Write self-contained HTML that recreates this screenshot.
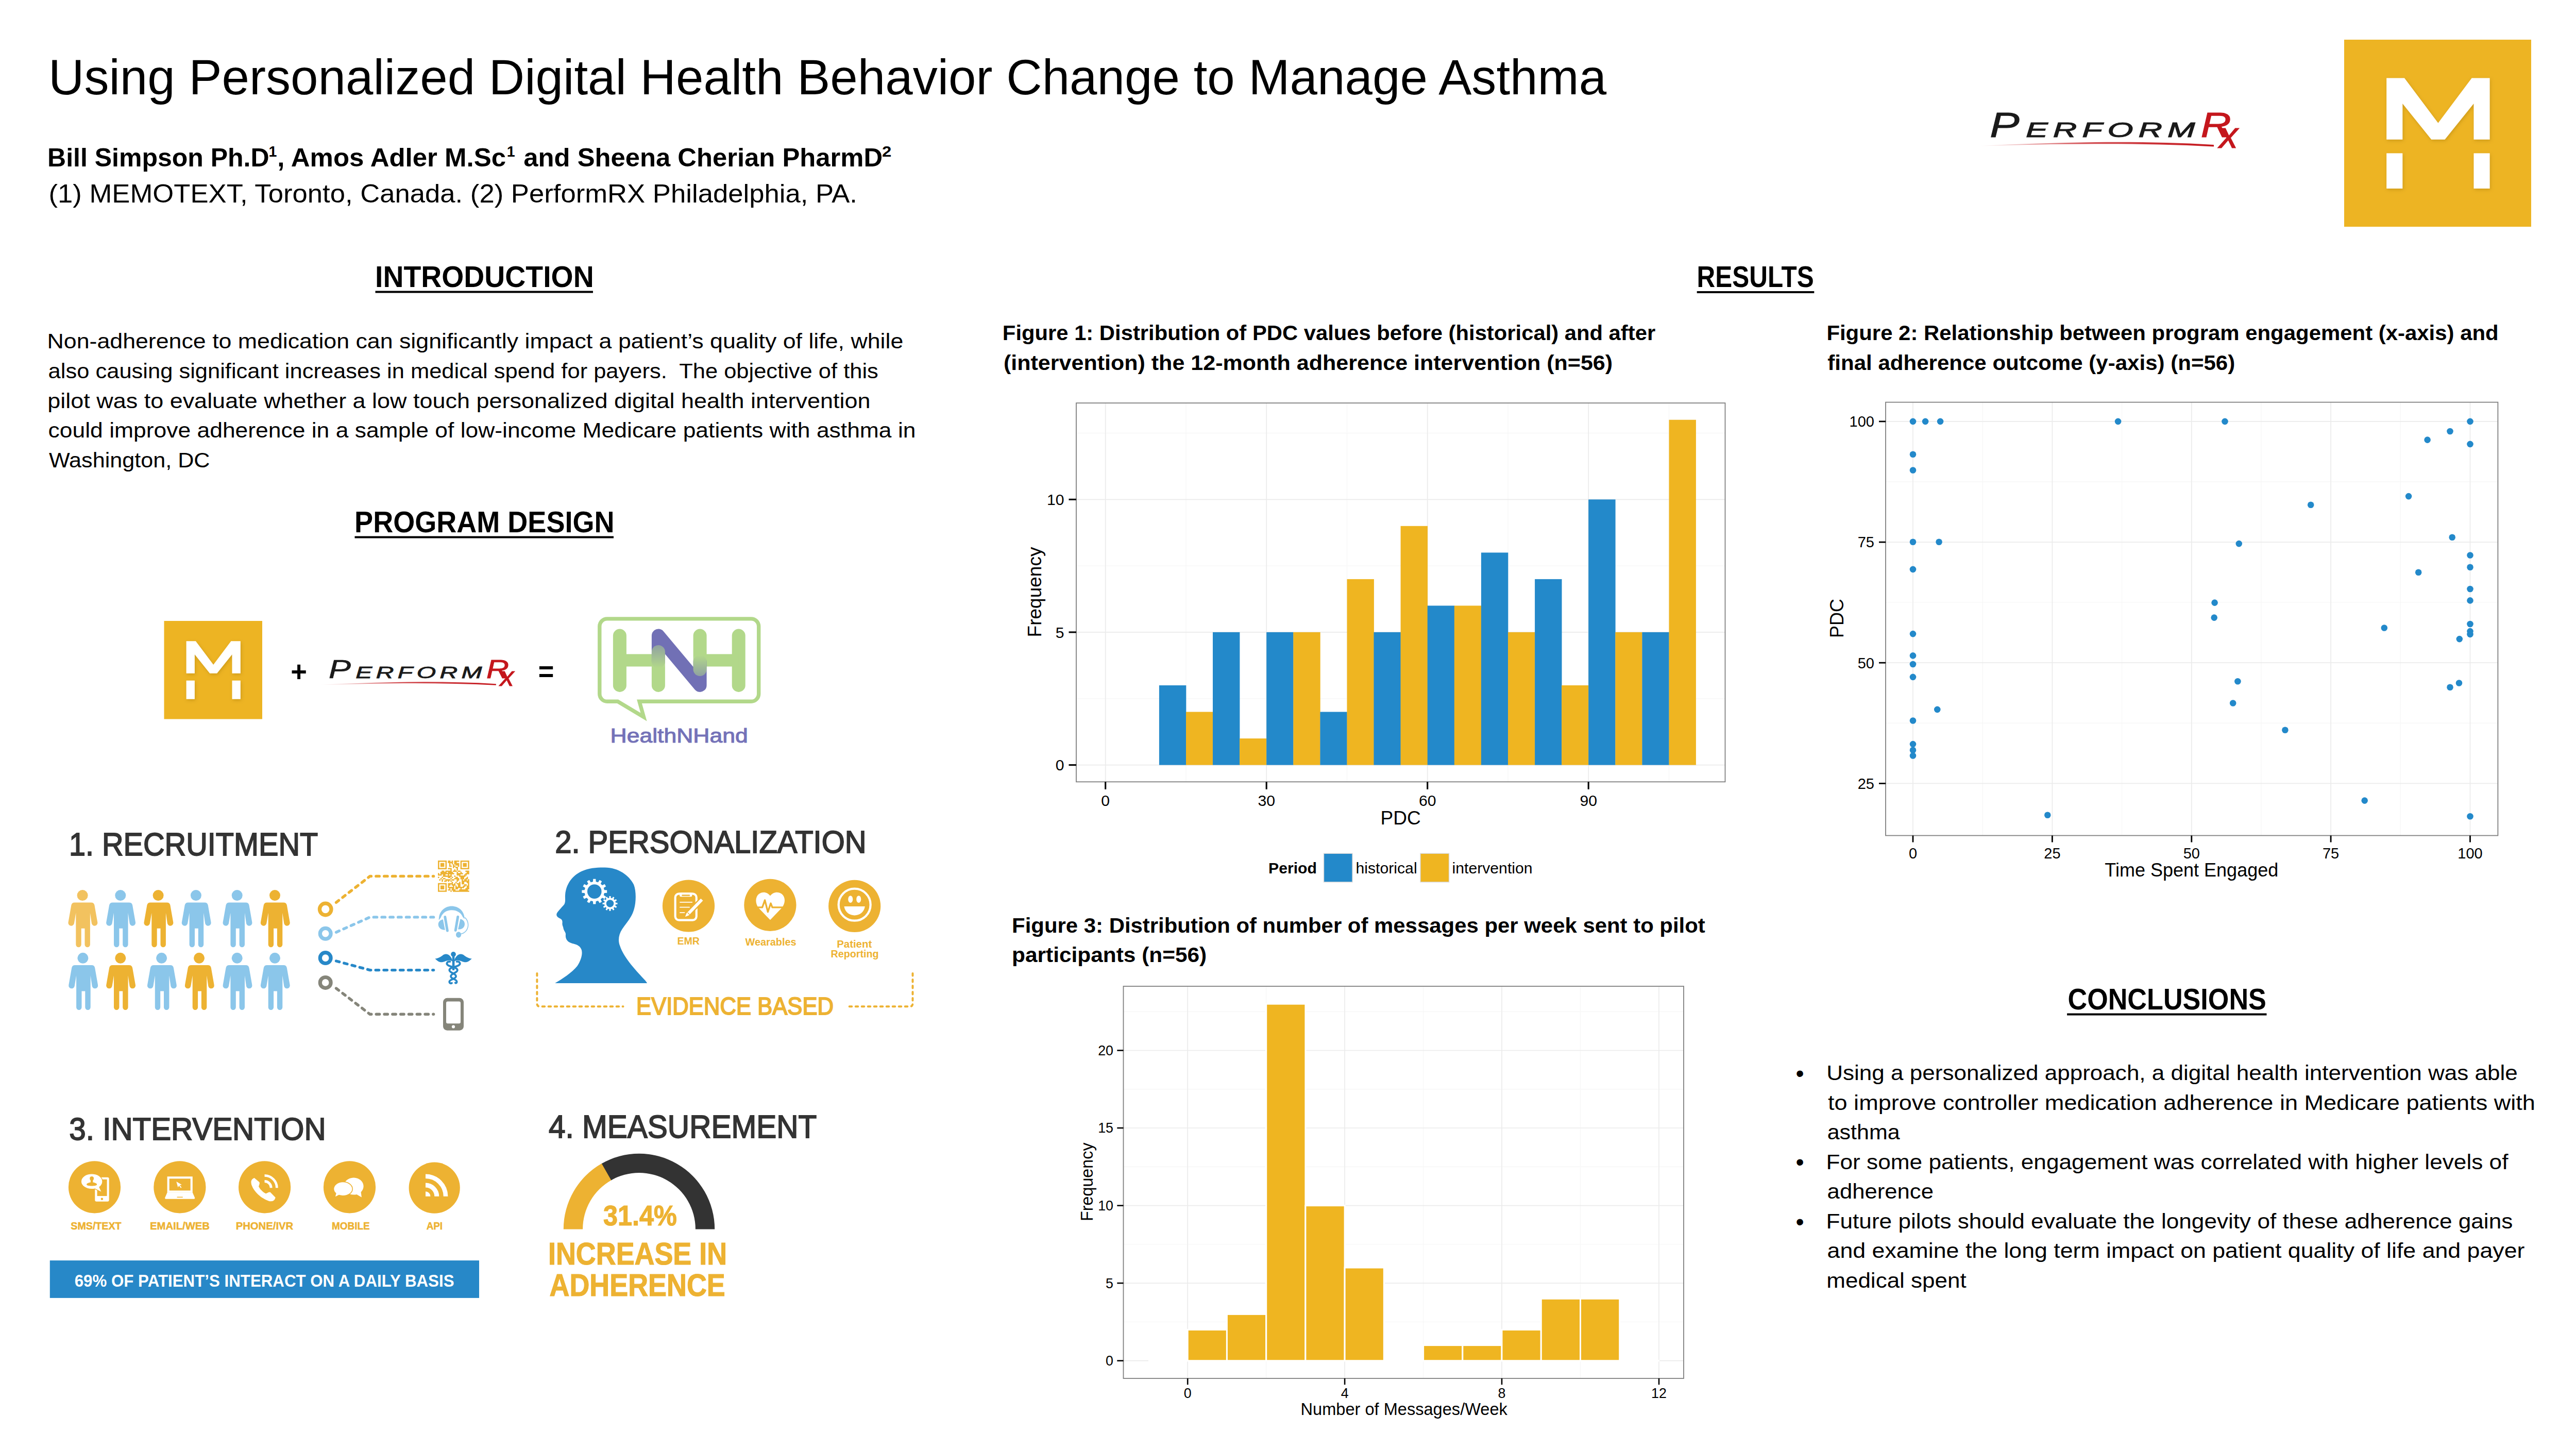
<!DOCTYPE html>
<html lang="en"><head><meta charset="utf-8"><title>Using Personalized Digital Health Behavior Change to Manage Asthma</title>
<style>
html,body{margin:0;padding:0;background:#fff;}
body{width:5006px;height:2812px;overflow:hidden;font-family:'Liberation Sans', sans-serif;}
svg{display:block;font-family:'Liberation Sans', sans-serif;}
text{white-space:pre;}
</style></head><body>
<svg width="5006" height="2812" viewBox="0 0 5006 2812">
<defs>
<filter id="msh" x="-10%" y="-10%" width="130%" height="130%"><feDropShadow dx="1.5" dy="2.5" stdDeviation="3" flood-color="#7a5a00" flood-opacity="0.28"/></filter>
<linearGradient id="swg" x1="0" x2="1" y1="0" y2="0"><stop offset="0" stop-color="#C4161C" stop-opacity="0"/><stop offset="0.45" stop-color="#C4161C" stop-opacity="0.75"/><stop offset="1" stop-color="#C4161C"/></linearGradient>
<linearGradient id="gp1" gradientUnits="userSpaceOnUse" x1="0" x2="0" y1="1254" y2="1296"><stop offset="0" stop-color="#B2D88A" stop-opacity="0.5"/><stop offset="1" stop-color="#B2D88A" stop-opacity="1"/></linearGradient>
<linearGradient id="gp2" gradientUnits="userSpaceOnUse" x1="0" x2="0" y1="1272" y2="1310"><stop offset="0" stop-color="#B2D88A" stop-opacity="1"/><stop offset="1" stop-color="#B2D88A" stop-opacity="0.5"/></linearGradient>
</defs>
<rect width="5006" height="2812" fill="#fff"/>
<text x="94.00" y="182.5" font-size="96" fill="#000" textLength="3024.09" lengthAdjust="spacingAndGlyphs">Using Personalized Digital Health Behavior Change to Manage Asthma</text>
<text x="92.08" y="322.6" font-size="50" font-weight="bold" fill="#000" textLength="430.46" lengthAdjust="spacingAndGlyphs">Bill Simpson Ph.D</text>
<text x="521.41" y="303.6" font-size="30" font-weight="bold" fill="#000" textLength="15.90" lengthAdjust="spacingAndGlyphs">1</text>
<text x="538.34" y="322.6" font-size="50" font-weight="bold" fill="#000" textLength="443.72" lengthAdjust="spacingAndGlyphs">, Amos Adler M.Sc</text>
<text x="983.71" y="303.6" font-size="30" font-weight="bold" fill="#000" textLength="15.90" lengthAdjust="spacingAndGlyphs">1</text>
<text x="1016.31" y="322.6" font-size="50" font-weight="bold" fill="#000" textLength="696.85" lengthAdjust="spacingAndGlyphs">and Sheena Cherian PharmD</text>
<text x="1711.97" y="303.6" font-size="30" font-weight="bold" fill="#000" textLength="18.35" lengthAdjust="spacingAndGlyphs">2</text>
<text x="94.53" y="393.2" font-size="50" fill="#000" textLength="1569.42" lengthAdjust="spacingAndGlyphs">(1) MEMOTEXT, Toronto, Canada. (2) PerformRX Philadelphia, PA.</text>
<text x="728.04" y="556.5" font-size="57" font-weight="bold" fill="#000" textLength="424.61" lengthAdjust="spacingAndGlyphs">INTRODUCTION</text>
<rect x="728.5" y="564.5" width="422.5" height="4" fill="#000"/>
<text x="3293.61" y="557.0" font-size="57" font-weight="bold" fill="#000" textLength="226.99" lengthAdjust="spacingAndGlyphs">RESULTS</text>
<rect x="3293.7" y="565.0" width="227.6" height="4" fill="#000"/>
<text x="688.12" y="1032.5" font-size="57" font-weight="bold" fill="#000" textLength="504.44" lengthAdjust="spacingAndGlyphs">PROGRAM DESIGN</text>
<rect x="688.5" y="1040.5" width="502.5" height="4" fill="#000"/>
<text x="4013.47" y="1958.5" font-size="57" font-weight="bold" fill="#000" textLength="385.41" lengthAdjust="spacingAndGlyphs">CONCLUSIONS</text>
<rect x="4012.1" y="1966.5" width="387.4" height="4" fill="#000"/>
<text x="91.51" y="676.0" font-size="41" fill="#000" textLength="1661.80" lengthAdjust="spacingAndGlyphs">Non-adherence to medication can significantly impact a patient’s quality of life, while</text>
<text x="93.64" y="734.0" font-size="41" fill="#000" textLength="1611.22" lengthAdjust="spacingAndGlyphs">also causing significant increases in medical spend for payers.  The objective of this</text>
<text x="92.19" y="791.5" font-size="41" fill="#000" textLength="1597.34" lengthAdjust="spacingAndGlyphs">pilot was to evaluate whether a low touch personalized digital health intervention</text>
<text x="93.61" y="849.0" font-size="41" fill="#000" textLength="1683.88" lengthAdjust="spacingAndGlyphs">could improve adherence in a sample of low-income Medicare patients with asthma in</text>
<text x="95.00" y="906.5" font-size="41" fill="#000" textLength="312.50" lengthAdjust="spacingAndGlyphs">Washington, DC</text>
<text x="1945.89" y="660.0" font-size="41" font-weight="bold" fill="#000" textLength="1267.30" lengthAdjust="spacingAndGlyphs">Figure 1: Distribution of PDC values before (historical) and after</text>
<text x="1947.98" y="718.0" font-size="41" font-weight="bold" fill="#000" textLength="1182.17" lengthAdjust="spacingAndGlyphs">(intervention) the 12-month adherence intervention (n=56)</text>
<text x="3545.38" y="659.5" font-size="41" font-weight="bold" fill="#000" textLength="1304.30" lengthAdjust="spacingAndGlyphs">Figure 2: Relationship between program engagement (x-axis) and</text>
<text x="3547.34" y="717.6" font-size="41" font-weight="bold" fill="#000" textLength="790.88" lengthAdjust="spacingAndGlyphs">final adherence outcome (y-axis) (n=56)</text>
<text x="1964.08" y="1810.4" font-size="41" font-weight="bold" fill="#000" textLength="1345.72" lengthAdjust="spacingAndGlyphs">Figure 3: Distribution of number of messages per week sent to pilot</text>
<text x="1964.05" y="1867.4" font-size="41" font-weight="bold" fill="#000" textLength="378.18" lengthAdjust="spacingAndGlyphs">participants (n=56)</text>
<text x="3545.25" y="2095.9" font-size="41" fill="#000" textLength="1341.54" lengthAdjust="spacingAndGlyphs">Using a personalized approach, a digital health intervention was able</text>
<text x="3548.00" y="2153.6" font-size="41" fill="#000" textLength="1372.93" lengthAdjust="spacingAndGlyphs">to improve controller medication adherence in Medicare patients with</text>
<text x="3546.66" y="2211.4" font-size="41" fill="#000" textLength="141.07" lengthAdjust="spacingAndGlyphs">asthma</text>
<text x="3544.55" y="2268.5" font-size="41" fill="#000" textLength="1323.90" lengthAdjust="spacingAndGlyphs">For some patients, engagement was correlated with higher levels of</text>
<text x="3546.64" y="2326.3" font-size="41" fill="#000" textLength="206.33" lengthAdjust="spacingAndGlyphs">adherence</text>
<text x="3544.55" y="2384.0" font-size="41" fill="#000" textLength="1332.73" lengthAdjust="spacingAndGlyphs">Future pilots should evaluate the longevity of these adherence gains</text>
<text x="3546.60" y="2441.2" font-size="41" fill="#000" textLength="1353.81" lengthAdjust="spacingAndGlyphs">and examine the long term impact on patient quality of life and payer</text>
<text x="3545.25" y="2498.9" font-size="41" fill="#000" textLength="271.50" lengthAdjust="spacingAndGlyphs">medical spent</text>
<text x="3485.56" y="2098.7" font-size="46" fill="#000" textLength="16.18" lengthAdjust="spacingAndGlyphs">•</text>
<text x="3485.56" y="2271.3" font-size="46" fill="#000" textLength="16.18" lengthAdjust="spacingAndGlyphs">•</text>
<text x="3485.56" y="2386.8" font-size="46" fill="#000" textLength="16.18" lengthAdjust="spacingAndGlyphs">•</text>
<g><rect x="4550.0" y="77.0" width="363.0" height="363.0" fill="#EDB423"/>
<g fill="#fff" filter="url(#msh)"><polygon points="4632.2,151.6 4667.0,151.6 4732.4,238.8 4797.7,151.6 4832.6,151.6 4832.6,270.7 4801.5,270.7 4801.5,201.0 4745.4,270.7 4719.3,270.7 4663.3,201.0 4663.3,270.7 4632.2,270.7"/>
<rect x="4632.2" y="297.4" width="31.1" height="68.5"/>
<rect x="4801.5" y="297.4" width="31.1" height="68.5"/></g></g>
<g><rect x="318.5" y="1205.0" width="190.5" height="190.5" fill="#EDB423"/>
<g fill="#fff" filter="url(#msh)"><polygon points="361.6,1244.2 379.9,1244.2 414.2,1289.9 448.5,1244.2 466.8,1244.2 466.8,1306.7 450.5,1306.7 450.5,1270.1 421.1,1306.7 407.3,1306.7 377.9,1270.1 377.9,1306.7 361.6,1306.7"/>
<rect x="361.6" y="1320.7" width="16.3" height="36.0"/>
<rect x="450.5" y="1320.7" width="16.3" height="36.0"/></g></g>
<g transform="">
<text x="3862.15" y="266.0" font-size="68" font-style="italic" fill="#1a1a1a" textLength="57.42" lengthAdjust="spacingAndGlyphs" stroke="#1a1a1a" stroke-width="1">P</text>
<text transform="translate(3931.99,266.0) scale(1.55,1)" font-size="41.5" font-style="italic" fill="#1a1a1a" textLength="212.01" lengthAdjust="spacing" stroke="#1a1a1a" stroke-width="1.1">ERFORM</text>
<text x="4271.73" y="266.0" font-size="68" font-style="italic" fill="#C4161C" textLength="58.82" lengthAdjust="spacingAndGlyphs" stroke="#C4161C" stroke-width="1.2">R</text>
<text x="4307.41" y="286.5" font-size="72" font-style="italic" fill="#C4161C" textLength="36.32" lengthAdjust="spacingAndGlyphs" stroke="#C4161C" stroke-width="1.1">x</text>
<path d="M3842,283 C3990,276 4150,272 4297,281 L4297,284.5 C4150,276.5 3990,279 3842,283.6 Z" fill="url(#swg)"/>
</g>
<g transform="translate(-2247.03,1117.30) scale(0.747)">
<text x="3862.15" y="266.0" font-size="68" font-style="italic" fill="#1a1a1a" textLength="57.42" lengthAdjust="spacingAndGlyphs" stroke="#1a1a1a" stroke-width="1">P</text>
<text transform="translate(3931.99,266.0) scale(1.55,1)" font-size="41.5" font-style="italic" fill="#1a1a1a" textLength="212.01" lengthAdjust="spacing" stroke="#1a1a1a" stroke-width="1.1">ERFORM</text>
<text x="4271.73" y="266.0" font-size="68" font-style="italic" fill="#C4161C" textLength="58.82" lengthAdjust="spacingAndGlyphs" stroke="#C4161C" stroke-width="1.2">R</text>
<text x="4307.41" y="286.5" font-size="72" font-style="italic" fill="#C4161C" textLength="36.32" lengthAdjust="spacingAndGlyphs" stroke="#C4161C" stroke-width="1.1">x</text>
<path d="M3842,283 C3990,276 4150,272 4297,281 L4297,284.5 C4150,276.5 3990,279 3842,283.6 Z" fill="url(#swg)"/>
</g>
<text x="564.30" y="1322.0" font-size="56" font-weight="bold" fill="#000" textLength="31.71" lengthAdjust="spacingAndGlyphs">+</text>
<text x="1044.86" y="1322.0" font-size="56" font-weight="bold" fill="#000" textLength="30.58" lengthAdjust="spacingAndGlyphs">=</text>
<g>
<path d="M1178.5,1200.9 H1458 a14.7,14.7 0 0 1 14.7,14.7 V1346.6 a14.7,14.7 0 0 1 -14.7,14.7 H1241 L1249.5,1391.5 L1199,1361.3 H1178.5 a14.7,14.7 0 0 1 -14.7,-14.7 V1215.6 a14.7,14.7 0 0 1 14.7,-14.7 Z" fill="#fff" stroke="#B2D88A" stroke-width="7.4" stroke-linejoin="miter"/>
<rect x="1189.9" y="1220.6" width="26" height="122.3" rx="13" fill="#B2D88A"/>
<rect x="1420.7" y="1220.6" width="26" height="122.3" rx="13" fill="#B2D88A"/>
<rect x="1202.9" y="1269.4" width="75" height="24.1" fill="#B2D88A"/>
<rect x="1358.6" y="1269.4" width="75.1" height="24.1" fill="#B2D88A"/>
<path d="M1277.9,1284 V1233.6 L1358.6,1329.9 V1284" fill="none" stroke="#7170B5" stroke-width="26" stroke-linecap="round" stroke-linejoin="round"/>
<rect x="1264.9" y="1252" width="26" height="90.9" rx="13" fill="url(#gp1)"/>
<rect x="1345.6" y="1220.6" width="26" height="91.4" rx="13" fill="url(#gp2)"/>
</g>
<text x="1184.52" y="1440.6" font-size="39" fill="#7472B8" textLength="267.28" lengthAdjust="spacingAndGlyphs" stroke="#7472B8" stroke-width="1.1">HealthNHand</text>
<text x="133.90" y="1659.5" font-size="63" fill="#333333" textLength="483.29" lengthAdjust="spacingAndGlyphs" stroke="#333333" stroke-width="1.9">1. RECRUITMENT</text>
<text x="1077.18" y="1655.3" font-size="61" fill="#333333" textLength="604.44" lengthAdjust="spacingAndGlyphs" stroke="#333333" stroke-width="1.9">2. PERSONALIZATION</text>
<text x="134.28" y="2212.1" font-size="62" fill="#333333" textLength="498.38" lengthAdjust="spacingAndGlyphs" stroke="#333333" stroke-width="1.9">3. INTERVENTION</text>
<text x="1064.89" y="2208.1" font-size="63" fill="#333333" textLength="520.42" lengthAdjust="spacingAndGlyphs" stroke="#333333" stroke-width="1.9">4. MEASUREMENT</text>
<g fill="#F2C25F"><circle cx="160.1" cy="1737.6" r="10.5"/><path transform="translate(160.9,1737.6)" d="M-16,13.8 H16 Q21.5,13.8 22.5,19 L28.3,52 A5.7,5.7 0 0 1 17,54.5 L14,34 V95.5 A5.2,5.2 0 0 1 3.6,95.5 V64.2 H-3.2 V95.5 A5.2,5.2 0 0 1 -13.6,95.5 V34 L-17,54.5 A5.7,5.7 0 0 1 -28.3,52 L-22.5,19 Q-21.5,13.8 -16,13.8 Z"/></g>
<g fill="#8BC6EA"><circle cx="233.8" cy="1737.6" r="10.5"/><path transform="translate(234.6,1737.6)" d="M-16,13.8 H16 Q21.5,13.8 22.5,19 L28.3,52 A5.7,5.7 0 0 1 17,54.5 L14,34 V95.5 A5.2,5.2 0 0 1 3.6,95.5 V64.2 H-3.2 V95.5 A5.2,5.2 0 0 1 -13.6,95.5 V34 L-17,54.5 A5.7,5.7 0 0 1 -28.3,52 L-22.5,19 Q-21.5,13.8 -16,13.8 Z"/></g>
<g fill="#EDB232"><circle cx="307.1" cy="1737.6" r="10.5"/><path transform="translate(307.9,1737.6)" d="M-16,13.8 H16 Q21.5,13.8 22.5,19 L28.3,52 A5.7,5.7 0 0 1 17,54.5 L14,34 V95.5 A5.2,5.2 0 0 1 3.6,95.5 V64.2 H-3.2 V95.5 A5.2,5.2 0 0 1 -13.6,95.5 V34 L-17,54.5 A5.7,5.7 0 0 1 -28.3,52 L-22.5,19 Q-21.5,13.8 -16,13.8 Z"/></g>
<g fill="#8BC6EA"><circle cx="380.4" cy="1737.6" r="10.5"/><path transform="translate(381.2,1737.6)" d="M-16,13.8 H16 Q21.5,13.8 22.5,19 L28.3,52 A5.7,5.7 0 0 1 17,54.5 L14,34 V95.5 A5.2,5.2 0 0 1 3.6,95.5 V64.2 H-3.2 V95.5 A5.2,5.2 0 0 1 -13.6,95.5 V34 L-17,54.5 A5.7,5.7 0 0 1 -28.3,52 L-22.5,19 Q-21.5,13.8 -16,13.8 Z"/></g>
<g fill="#8BC6EA"><circle cx="460.2" cy="1737.6" r="10.5"/><path transform="translate(461.0,1737.6)" d="M-16,13.8 H16 Q21.5,13.8 22.5,19 L28.3,52 A5.7,5.7 0 0 1 17,54.5 L14,34 V95.5 A5.2,5.2 0 0 1 3.6,95.5 V64.2 H-3.2 V95.5 A5.2,5.2 0 0 1 -13.6,95.5 V34 L-17,54.5 A5.7,5.7 0 0 1 -28.3,52 L-22.5,19 Q-21.5,13.8 -16,13.8 Z"/></g>
<g fill="#EDB232"><circle cx="533.5" cy="1737.6" r="10.5"/><path transform="translate(534.3,1737.6)" d="M-16,13.8 H16 Q21.5,13.8 22.5,19 L28.3,52 A5.7,5.7 0 0 1 17,54.5 L14,34 V95.5 A5.2,5.2 0 0 1 3.6,95.5 V64.2 H-3.2 V95.5 A5.2,5.2 0 0 1 -13.6,95.5 V34 L-17,54.5 A5.7,5.7 0 0 1 -28.3,52 L-22.5,19 Q-21.5,13.8 -16,13.8 Z"/></g>
<g fill="#8BC6EA"><circle cx="160.9" cy="1859.3" r="10.5"/><path transform="translate(161.7,1859.3)" d="M-16,13.8 H16 Q21.5,13.8 22.5,19 L28.3,52 A5.7,5.7 0 0 1 17,54.5 L14,34 V95.5 A5.2,5.2 0 0 1 3.6,95.5 V64.2 H-3.2 V95.5 A5.2,5.2 0 0 1 -13.6,95.5 V34 L-17,54.5 A5.7,5.7 0 0 1 -28.3,52 L-22.5,19 Q-21.5,13.8 -16,13.8 Z"/></g>
<g fill="#EDB232"><circle cx="233.8" cy="1859.3" r="10.5"/><path transform="translate(234.6,1859.3)" d="M-16,13.8 H16 Q21.5,13.8 22.5,19 L28.3,52 A5.7,5.7 0 0 1 17,54.5 L14,34 V95.5 A5.2,5.2 0 0 1 3.6,95.5 V64.2 H-3.2 V95.5 A5.2,5.2 0 0 1 -13.6,95.5 V34 L-17,54.5 A5.7,5.7 0 0 1 -28.3,52 L-22.5,19 Q-21.5,13.8 -16,13.8 Z"/></g>
<g fill="#8BC6EA"><circle cx="313.6" cy="1859.3" r="10.5"/><path transform="translate(314.4,1859.3)" d="M-16,13.8 H16 Q21.5,13.8 22.5,19 L28.3,52 A5.7,5.7 0 0 1 17,54.5 L14,34 V95.5 A5.2,5.2 0 0 1 3.6,95.5 V64.2 H-3.2 V95.5 A5.2,5.2 0 0 1 -13.6,95.5 V34 L-17,54.5 A5.7,5.7 0 0 1 -28.3,52 L-22.5,19 Q-21.5,13.8 -16,13.8 Z"/></g>
<g fill="#EDB232"><circle cx="386.5" cy="1859.3" r="10.5"/><path transform="translate(387.3,1859.3)" d="M-16,13.8 H16 Q21.5,13.8 22.5,19 L28.3,52 A5.7,5.7 0 0 1 17,54.5 L14,34 V95.5 A5.2,5.2 0 0 1 3.6,95.5 V64.2 H-3.2 V95.5 A5.2,5.2 0 0 1 -13.6,95.5 V34 L-17,54.5 A5.7,5.7 0 0 1 -28.3,52 L-22.5,19 Q-21.5,13.8 -16,13.8 Z"/></g>
<g fill="#8BC6EA"><circle cx="460.2" cy="1859.3" r="10.5"/><path transform="translate(461.0,1859.3)" d="M-16,13.8 H16 Q21.5,13.8 22.5,19 L28.3,52 A5.7,5.7 0 0 1 17,54.5 L14,34 V95.5 A5.2,5.2 0 0 1 3.6,95.5 V64.2 H-3.2 V95.5 A5.2,5.2 0 0 1 -13.6,95.5 V34 L-17,54.5 A5.7,5.7 0 0 1 -28.3,52 L-22.5,19 Q-21.5,13.8 -16,13.8 Z"/></g>
<g fill="#8BC6EA"><circle cx="533.5" cy="1859.3" r="10.5"/><path transform="translate(534.3,1859.3)" d="M-16,13.8 H16 Q21.5,13.8 22.5,19 L28.3,52 A5.7,5.7 0 0 1 17,54.5 L14,34 V95.5 A5.2,5.2 0 0 1 3.6,95.5 V64.2 H-3.2 V95.5 A5.2,5.2 0 0 1 -13.6,95.5 V34 L-17,54.5 A5.7,5.7 0 0 1 -28.3,52 L-22.5,19 Q-21.5,13.8 -16,13.8 Z"/></g>
<circle cx="631.7" cy="1764.5" r="11.3" fill="none" stroke="#EDB232" stroke-width="7.2"/>
<circle cx="631.7" cy="1811.8" r="10.4" fill="none" stroke="#8BC6EA" stroke-width="7.2"/>
<circle cx="631.7" cy="1859.1" r="10.4" fill="none" stroke="#2788C8" stroke-width="7.2"/>
<circle cx="631.7" cy="1906.9" r="10.4" fill="none" stroke="#85857A" stroke-width="7.2"/>
<path d="M652.5,1751.3 L718.1,1700.4 L841.6,1700.4" fill="none" stroke="#EDB232" stroke-width="5.4" stroke-linecap="round" stroke-linejoin="round" stroke-dasharray="6.4 9.4"/>
<path d="M652.5,1809.2 L718.1,1779.9 L841.6,1779.9" fill="none" stroke="#8BC6EA" stroke-width="5.4" stroke-linecap="round" stroke-linejoin="round" stroke-dasharray="6.4 9.4"/>
<path d="M652.5,1865 L718.1,1882.6 L841.6,1882.6" fill="none" stroke="#2788C8" stroke-width="5.4" stroke-linecap="round" stroke-linejoin="round" stroke-dasharray="6.4 9.4"/>
<path d="M652.5,1918 L718.1,1968.3 L841.6,1968.3" fill="none" stroke="#85857A" stroke-width="5.4" stroke-linecap="round" stroke-linejoin="round" stroke-dasharray="6.4 9.4"/>
<path d="M850.00,1670.00h2.57v2.57h-2.57zM852.42,1670.00h2.57v2.57h-2.57zM854.85,1670.00h2.57v2.57h-2.57zM857.27,1670.00h2.57v2.57h-2.57zM859.70,1670.00h2.57v2.57h-2.57zM862.12,1670.00h2.57v2.57h-2.57zM864.54,1670.00h2.57v2.57h-2.57zM869.39,1670.00h2.57v2.57h-2.57zM871.82,1670.00h2.57v2.57h-2.57zM876.66,1670.00h2.57v2.57h-2.57zM881.51,1670.00h2.57v2.57h-2.57zM883.94,1670.00h2.57v2.57h-2.57zM886.36,1670.00h2.57v2.57h-2.57zM888.78,1670.00h2.57v2.57h-2.57zM893.63,1670.00h2.57v2.57h-2.57zM896.06,1670.00h2.57v2.57h-2.57zM898.48,1670.00h2.57v2.57h-2.57zM900.90,1670.00h2.57v2.57h-2.57zM903.33,1670.00h2.57v2.57h-2.57zM905.75,1670.00h2.57v2.57h-2.57zM908.18,1670.00h2.57v2.57h-2.57zM850.00,1672.42h2.57v2.57h-2.57zM864.54,1672.42h2.57v2.57h-2.57zM869.39,1672.42h2.57v2.57h-2.57zM871.82,1672.42h2.57v2.57h-2.57zM874.24,1672.42h2.57v2.57h-2.57zM876.66,1672.42h2.57v2.57h-2.57zM881.51,1672.42h2.57v2.57h-2.57zM883.94,1672.42h2.57v2.57h-2.57zM893.63,1672.42h2.57v2.57h-2.57zM908.18,1672.42h2.57v2.57h-2.57zM850.00,1674.85h2.57v2.57h-2.57zM854.85,1674.85h2.57v2.57h-2.57zM857.27,1674.85h2.57v2.57h-2.57zM859.70,1674.85h2.57v2.57h-2.57zM864.54,1674.85h2.57v2.57h-2.57zM871.82,1674.85h2.57v2.57h-2.57zM876.66,1674.85h2.57v2.57h-2.57zM881.51,1674.85h2.57v2.57h-2.57zM883.94,1674.85h2.57v2.57h-2.57zM886.36,1674.85h2.57v2.57h-2.57zM888.78,1674.85h2.57v2.57h-2.57zM893.63,1674.85h2.57v2.57h-2.57zM898.48,1674.85h2.57v2.57h-2.57zM900.90,1674.85h2.57v2.57h-2.57zM903.33,1674.85h2.57v2.57h-2.57zM908.18,1674.85h2.57v2.57h-2.57zM850.00,1677.27h2.57v2.57h-2.57zM854.85,1677.27h2.57v2.57h-2.57zM857.27,1677.27h2.57v2.57h-2.57zM859.70,1677.27h2.57v2.57h-2.57zM864.54,1677.27h2.57v2.57h-2.57zM871.82,1677.27h2.57v2.57h-2.57zM879.09,1677.27h2.57v2.57h-2.57zM883.94,1677.27h2.57v2.57h-2.57zM886.36,1677.27h2.57v2.57h-2.57zM888.78,1677.27h2.57v2.57h-2.57zM893.63,1677.27h2.57v2.57h-2.57zM898.48,1677.27h2.57v2.57h-2.57zM900.90,1677.27h2.57v2.57h-2.57zM903.33,1677.27h2.57v2.57h-2.57zM908.18,1677.27h2.57v2.57h-2.57zM850.00,1679.70h2.57v2.57h-2.57zM854.85,1679.70h2.57v2.57h-2.57zM857.27,1679.70h2.57v2.57h-2.57zM859.70,1679.70h2.57v2.57h-2.57zM864.54,1679.70h2.57v2.57h-2.57zM871.82,1679.70h2.57v2.57h-2.57zM874.24,1679.70h2.57v2.57h-2.57zM879.09,1679.70h2.57v2.57h-2.57zM881.51,1679.70h2.57v2.57h-2.57zM888.78,1679.70h2.57v2.57h-2.57zM893.63,1679.70h2.57v2.57h-2.57zM898.48,1679.70h2.57v2.57h-2.57zM900.90,1679.70h2.57v2.57h-2.57zM903.33,1679.70h2.57v2.57h-2.57zM908.18,1679.70h2.57v2.57h-2.57zM850.00,1682.12h2.57v2.57h-2.57zM864.54,1682.12h2.57v2.57h-2.57zM879.09,1682.12h2.57v2.57h-2.57zM883.94,1682.12h2.57v2.57h-2.57zM886.36,1682.12h2.57v2.57h-2.57zM893.63,1682.12h2.57v2.57h-2.57zM908.18,1682.12h2.57v2.57h-2.57zM850.00,1684.54h2.57v2.57h-2.57zM852.42,1684.54h2.57v2.57h-2.57zM854.85,1684.54h2.57v2.57h-2.57zM857.27,1684.54h2.57v2.57h-2.57zM859.70,1684.54h2.57v2.57h-2.57zM862.12,1684.54h2.57v2.57h-2.57zM864.54,1684.54h2.57v2.57h-2.57zM869.39,1684.54h2.57v2.57h-2.57zM871.82,1684.54h2.57v2.57h-2.57zM874.24,1684.54h2.57v2.57h-2.57zM886.36,1684.54h2.57v2.57h-2.57zM893.63,1684.54h2.57v2.57h-2.57zM896.06,1684.54h2.57v2.57h-2.57zM898.48,1684.54h2.57v2.57h-2.57zM900.90,1684.54h2.57v2.57h-2.57zM903.33,1684.54h2.57v2.57h-2.57zM905.75,1684.54h2.57v2.57h-2.57zM908.18,1684.54h2.57v2.57h-2.57zM874.24,1686.97h2.57v2.57h-2.57zM881.51,1686.97h2.57v2.57h-2.57zM886.36,1686.97h2.57v2.57h-2.57zM857.27,1689.39h2.57v2.57h-2.57zM859.70,1689.39h2.57v2.57h-2.57zM864.54,1689.39h2.57v2.57h-2.57zM866.97,1689.39h2.57v2.57h-2.57zM869.39,1689.39h2.57v2.57h-2.57zM871.82,1689.39h2.57v2.57h-2.57zM874.24,1689.39h2.57v2.57h-2.57zM879.09,1689.39h2.57v2.57h-2.57zM881.51,1689.39h2.57v2.57h-2.57zM883.94,1689.39h2.57v2.57h-2.57zM888.78,1689.39h2.57v2.57h-2.57zM891.21,1689.39h2.57v2.57h-2.57zM903.33,1689.39h2.57v2.57h-2.57zM905.75,1689.39h2.57v2.57h-2.57zM908.18,1689.39h2.57v2.57h-2.57zM854.85,1691.82h2.57v2.57h-2.57zM857.27,1691.82h2.57v2.57h-2.57zM859.70,1691.82h2.57v2.57h-2.57zM862.12,1691.82h2.57v2.57h-2.57zM864.54,1691.82h2.57v2.57h-2.57zM869.39,1691.82h2.57v2.57h-2.57zM871.82,1691.82h2.57v2.57h-2.57zM874.24,1691.82h2.57v2.57h-2.57zM876.66,1691.82h2.57v2.57h-2.57zM886.36,1691.82h2.57v2.57h-2.57zM893.63,1691.82h2.57v2.57h-2.57zM905.75,1691.82h2.57v2.57h-2.57zM908.18,1691.82h2.57v2.57h-2.57zM850.00,1694.24h2.57v2.57h-2.57zM854.85,1694.24h2.57v2.57h-2.57zM857.27,1694.24h2.57v2.57h-2.57zM859.70,1694.24h2.57v2.57h-2.57zM862.12,1694.24h2.57v2.57h-2.57zM864.54,1694.24h2.57v2.57h-2.57zM866.97,1694.24h2.57v2.57h-2.57zM869.39,1694.24h2.57v2.57h-2.57zM871.82,1694.24h2.57v2.57h-2.57zM874.24,1694.24h2.57v2.57h-2.57zM876.66,1694.24h2.57v2.57h-2.57zM879.09,1694.24h2.57v2.57h-2.57zM886.36,1694.24h2.57v2.57h-2.57zM888.78,1694.24h2.57v2.57h-2.57zM891.21,1694.24h2.57v2.57h-2.57zM893.63,1694.24h2.57v2.57h-2.57zM896.06,1694.24h2.57v2.57h-2.57zM903.33,1694.24h2.57v2.57h-2.57zM905.75,1694.24h2.57v2.57h-2.57zM908.18,1694.24h2.57v2.57h-2.57zM850.00,1696.66h2.57v2.57h-2.57zM852.42,1696.66h2.57v2.57h-2.57zM854.85,1696.66h2.57v2.57h-2.57zM859.70,1696.66h2.57v2.57h-2.57zM862.12,1696.66h2.57v2.57h-2.57zM869.39,1696.66h2.57v2.57h-2.57zM874.24,1696.66h2.57v2.57h-2.57zM886.36,1696.66h2.57v2.57h-2.57zM888.78,1696.66h2.57v2.57h-2.57zM891.21,1696.66h2.57v2.57h-2.57zM900.90,1696.66h2.57v2.57h-2.57zM903.33,1696.66h2.57v2.57h-2.57zM859.70,1699.09h2.57v2.57h-2.57zM862.12,1699.09h2.57v2.57h-2.57zM864.54,1699.09h2.57v2.57h-2.57zM866.97,1699.09h2.57v2.57h-2.57zM869.39,1699.09h2.57v2.57h-2.57zM871.82,1699.09h2.57v2.57h-2.57zM874.24,1699.09h2.57v2.57h-2.57zM881.51,1699.09h2.57v2.57h-2.57zM891.21,1699.09h2.57v2.57h-2.57zM893.63,1699.09h2.57v2.57h-2.57zM896.06,1699.09h2.57v2.57h-2.57zM898.48,1699.09h2.57v2.57h-2.57zM900.90,1699.09h2.57v2.57h-2.57zM850.00,1701.51h2.57v2.57h-2.57zM857.27,1701.51h2.57v2.57h-2.57zM869.39,1701.51h2.57v2.57h-2.57zM871.82,1701.51h2.57v2.57h-2.57zM876.66,1701.51h2.57v2.57h-2.57zM883.94,1701.51h2.57v2.57h-2.57zM886.36,1701.51h2.57v2.57h-2.57zM893.63,1701.51h2.57v2.57h-2.57zM896.06,1701.51h2.57v2.57h-2.57zM898.48,1701.51h2.57v2.57h-2.57zM905.75,1701.51h2.57v2.57h-2.57zM854.85,1703.94h2.57v2.57h-2.57zM859.70,1703.94h2.57v2.57h-2.57zM862.12,1703.94h2.57v2.57h-2.57zM874.24,1703.94h2.57v2.57h-2.57zM881.51,1703.94h2.57v2.57h-2.57zM883.94,1703.94h2.57v2.57h-2.57zM886.36,1703.94h2.57v2.57h-2.57zM888.78,1703.94h2.57v2.57h-2.57zM893.63,1703.94h2.57v2.57h-2.57zM896.06,1703.94h2.57v2.57h-2.57zM898.48,1703.94h2.57v2.57h-2.57zM903.33,1703.94h2.57v2.57h-2.57zM905.75,1703.94h2.57v2.57h-2.57zM852.42,1706.36h2.57v2.57h-2.57zM857.27,1706.36h2.57v2.57h-2.57zM864.54,1706.36h2.57v2.57h-2.57zM866.97,1706.36h2.57v2.57h-2.57zM869.39,1706.36h2.57v2.57h-2.57zM871.82,1706.36h2.57v2.57h-2.57zM876.66,1706.36h2.57v2.57h-2.57zM879.09,1706.36h2.57v2.57h-2.57zM886.36,1706.36h2.57v2.57h-2.57zM888.78,1706.36h2.57v2.57h-2.57zM896.06,1706.36h2.57v2.57h-2.57zM900.90,1706.36h2.57v2.57h-2.57zM903.33,1706.36h2.57v2.57h-2.57zM908.18,1706.36h2.57v2.57h-2.57zM857.27,1708.78h2.57v2.57h-2.57zM862.12,1708.78h2.57v2.57h-2.57zM864.54,1708.78h2.57v2.57h-2.57zM869.39,1708.78h2.57v2.57h-2.57zM874.24,1708.78h2.57v2.57h-2.57zM886.36,1708.78h2.57v2.57h-2.57zM896.06,1708.78h2.57v2.57h-2.57zM898.48,1708.78h2.57v2.57h-2.57zM900.90,1708.78h2.57v2.57h-2.57zM903.33,1708.78h2.57v2.57h-2.57zM905.75,1708.78h2.57v2.57h-2.57zM908.18,1708.78h2.57v2.57h-2.57zM876.66,1711.21h2.57v2.57h-2.57zM883.94,1711.21h2.57v2.57h-2.57zM891.21,1711.21h2.57v2.57h-2.57zM896.06,1711.21h2.57v2.57h-2.57zM898.48,1711.21h2.57v2.57h-2.57zM905.75,1711.21h2.57v2.57h-2.57zM908.18,1711.21h2.57v2.57h-2.57zM850.00,1713.63h2.57v2.57h-2.57zM852.42,1713.63h2.57v2.57h-2.57zM854.85,1713.63h2.57v2.57h-2.57zM857.27,1713.63h2.57v2.57h-2.57zM859.70,1713.63h2.57v2.57h-2.57zM862.12,1713.63h2.57v2.57h-2.57zM864.54,1713.63h2.57v2.57h-2.57zM869.39,1713.63h2.57v2.57h-2.57zM871.82,1713.63h2.57v2.57h-2.57zM874.24,1713.63h2.57v2.57h-2.57zM876.66,1713.63h2.57v2.57h-2.57zM881.51,1713.63h2.57v2.57h-2.57zM886.36,1713.63h2.57v2.57h-2.57zM888.78,1713.63h2.57v2.57h-2.57zM891.21,1713.63h2.57v2.57h-2.57zM896.06,1713.63h2.57v2.57h-2.57zM898.48,1713.63h2.57v2.57h-2.57zM908.18,1713.63h2.57v2.57h-2.57zM850.00,1716.06h2.57v2.57h-2.57zM864.54,1716.06h2.57v2.57h-2.57zM869.39,1716.06h2.57v2.57h-2.57zM871.82,1716.06h2.57v2.57h-2.57zM876.66,1716.06h2.57v2.57h-2.57zM879.09,1716.06h2.57v2.57h-2.57zM881.51,1716.06h2.57v2.57h-2.57zM888.78,1716.06h2.57v2.57h-2.57zM891.21,1716.06h2.57v2.57h-2.57zM900.90,1716.06h2.57v2.57h-2.57zM903.33,1716.06h2.57v2.57h-2.57zM908.18,1716.06h2.57v2.57h-2.57zM850.00,1718.48h2.57v2.57h-2.57zM854.85,1718.48h2.57v2.57h-2.57zM857.27,1718.48h2.57v2.57h-2.57zM859.70,1718.48h2.57v2.57h-2.57zM864.54,1718.48h2.57v2.57h-2.57zM869.39,1718.48h2.57v2.57h-2.57zM879.09,1718.48h2.57v2.57h-2.57zM883.94,1718.48h2.57v2.57h-2.57zM888.78,1718.48h2.57v2.57h-2.57zM891.21,1718.48h2.57v2.57h-2.57zM898.48,1718.48h2.57v2.57h-2.57zM900.90,1718.48h2.57v2.57h-2.57zM905.75,1718.48h2.57v2.57h-2.57zM908.18,1718.48h2.57v2.57h-2.57zM850.00,1720.90h2.57v2.57h-2.57zM854.85,1720.90h2.57v2.57h-2.57zM857.27,1720.90h2.57v2.57h-2.57zM859.70,1720.90h2.57v2.57h-2.57zM864.54,1720.90h2.57v2.57h-2.57zM869.39,1720.90h2.57v2.57h-2.57zM871.82,1720.90h2.57v2.57h-2.57zM874.24,1720.90h2.57v2.57h-2.57zM876.66,1720.90h2.57v2.57h-2.57zM879.09,1720.90h2.57v2.57h-2.57zM883.94,1720.90h2.57v2.57h-2.57zM886.36,1720.90h2.57v2.57h-2.57zM888.78,1720.90h2.57v2.57h-2.57zM891.21,1720.90h2.57v2.57h-2.57zM893.63,1720.90h2.57v2.57h-2.57zM896.06,1720.90h2.57v2.57h-2.57zM898.48,1720.90h2.57v2.57h-2.57zM905.75,1720.90h2.57v2.57h-2.57zM908.18,1720.90h2.57v2.57h-2.57zM850.00,1723.33h2.57v2.57h-2.57zM854.85,1723.33h2.57v2.57h-2.57zM857.27,1723.33h2.57v2.57h-2.57zM859.70,1723.33h2.57v2.57h-2.57zM864.54,1723.33h2.57v2.57h-2.57zM871.82,1723.33h2.57v2.57h-2.57zM876.66,1723.33h2.57v2.57h-2.57zM879.09,1723.33h2.57v2.57h-2.57zM883.94,1723.33h2.57v2.57h-2.57zM886.36,1723.33h2.57v2.57h-2.57zM893.63,1723.33h2.57v2.57h-2.57zM903.33,1723.33h2.57v2.57h-2.57zM905.75,1723.33h2.57v2.57h-2.57zM908.18,1723.33h2.57v2.57h-2.57zM850.00,1725.75h2.57v2.57h-2.57zM864.54,1725.75h2.57v2.57h-2.57zM869.39,1725.75h2.57v2.57h-2.57zM871.82,1725.75h2.57v2.57h-2.57zM876.66,1725.75h2.57v2.57h-2.57zM879.09,1725.75h2.57v2.57h-2.57zM881.51,1725.75h2.57v2.57h-2.57zM891.21,1725.75h2.57v2.57h-2.57zM893.63,1725.75h2.57v2.57h-2.57zM896.06,1725.75h2.57v2.57h-2.57zM898.48,1725.75h2.57v2.57h-2.57zM900.90,1725.75h2.57v2.57h-2.57zM903.33,1725.75h2.57v2.57h-2.57zM905.75,1725.75h2.57v2.57h-2.57zM850.00,1728.18h2.57v2.57h-2.57zM852.42,1728.18h2.57v2.57h-2.57zM854.85,1728.18h2.57v2.57h-2.57zM857.27,1728.18h2.57v2.57h-2.57zM859.70,1728.18h2.57v2.57h-2.57zM862.12,1728.18h2.57v2.57h-2.57zM864.54,1728.18h2.57v2.57h-2.57zM874.24,1728.18h2.57v2.57h-2.57zM879.09,1728.18h2.57v2.57h-2.57zM881.51,1728.18h2.57v2.57h-2.57zM883.94,1728.18h2.57v2.57h-2.57zM886.36,1728.18h2.57v2.57h-2.57zM888.78,1728.18h2.57v2.57h-2.57zM891.21,1728.18h2.57v2.57h-2.57zM893.63,1728.18h2.57v2.57h-2.57zM896.06,1728.18h2.57v2.57h-2.57zM898.48,1728.18h2.57v2.57h-2.57zM900.90,1728.18h2.57v2.57h-2.57zM903.33,1728.18h2.57v2.57h-2.57zM905.75,1728.18h2.57v2.57h-2.57zM908.18,1728.18h2.57v2.57h-2.57z" fill="#EDB232"/>
<g transform="translate(830,1740) scale(0.12438)" fill="#8BC6EA"><path d="M175,368 C170,240 260,148 375,148 C490,148 580,235 575,350 L548,318 C520,250 455,212 375,212 C295,212 232,255 205,328 Z"/><path d="M240,355 C190,365 160,400 167,445 C175,495 215,522 272,520 Z"/><path d="M510,350 C560,360 585,398 578,440 C570,490 530,515 475,510 Z"/><path d="M272,318 L308,532" fill="none" stroke="#8BC6EA" stroke-width="40" stroke-linecap="round"/><path d="M472,315 L436,526" fill="none" stroke="#8BC6EA" stroke-width="40" stroke-linecap="round"/><path d="M580,325 C640,380 650,470 600,535 C575,565 545,578 515,582" fill="none" stroke="#8BC6EA" stroke-width="12"/><ellipse cx="483" cy="595" rx="41" ry="46"/></g>
<g transform="translate(830,1740) scale(0.12438)" fill="#2788C8"><circle cx="402" cy="900" r="39"/><rect x="384" y="900" width="37" height="250" rx="10"/><path d="M388,1000 C372,930 300,860 230,920 C190,950 150,965 116,968 C150,1000 185,1032 235,1022 C285,1012 320,975 388,1010 Z"/><path d="M416,1000 C432,930 504,860 574,920 C614,950 654,965 690,968 C654,1000 619,1032 569,1022 C519,1012 484,975 416,1010 Z"/><g fill="none" stroke="#2788C8" stroke-width="30" stroke-linecap="round" stroke-linejoin="round"><path d="M350,1015 C300,1010 285,1050 320,1072 C370,1100 470,1105 465,1150 C460,1190 360,1200 362,1245 C365,1285 450,1285 455,1325 C458,1350 440,1352 432,1345"/><path d="M455,1015 C505,1010 520,1050 485,1072 C435,1100 335,1105 340,1150 C345,1190 445,1200 443,1245 C440,1285 345,1290 340,1325 C338,1352 365,1358 378,1348"/></g></g>
<rect x="860" y="1936.8" width="40" height="62.9" rx="8" fill="#85857A"/><rect x="866" y="1943.5" width="28" height="42.7" rx="3" fill="#fff"/><circle cx="880" cy="1992.5" r="3.1" fill="#fff"/>
<g transform="translate(1060,1670) scale(0.17274)"><path d="M640,78 C800,70 930,160 985,270 C1015,345 1010,470 990,540 C965,640 900,700 855,770 C815,830 805,900 830,960 C860,1050 930,1150 1060,1290 C1100,1335 1120,1350 1135,1378 L100,1378 C180,1330 290,1260 350,1185 C395,1120 415,1040 395,995 C375,950 330,940 295,932 C235,915 215,880 220,830 C222,805 200,790 195,765 C192,740 180,730 182,705 C185,680 180,665 165,655 C125,640 105,615 125,585 C150,550 190,510 205,490 C222,455 210,420 215,380 C225,270 290,170 400,120 C480,85 560,78 640,78 Z" fill="#2788C8"/>
<path d="M653.8,331.6 L684.2,333.2 L684.2,362.8 L653.8,364.4 L647.1,389.2 L672.7,405.8 L657.9,431.5 L630.8,417.6 L612.6,435.8 L626.5,462.9 L600.8,477.7 L584.2,452.1 L559.4,458.8 L557.8,489.2 L528.2,489.2 L526.6,458.8 L501.8,452.1 L485.2,477.7 L459.5,462.9 L473.4,435.8 L455.2,417.6 L428.1,431.5 L413.3,405.8 L438.9,389.2 L432.2,364.4 L401.8,362.8 L401.8,333.2 L432.2,331.6 L438.9,306.8 L413.3,290.2 L428.1,264.5 L455.2,278.4 L473.4,260.2 L459.5,233.1 L485.2,218.3 L501.8,243.9 L526.6,237.2 L528.2,206.8 L557.8,206.8 L559.4,237.2 L584.2,243.9 L600.8,218.3 L626.5,233.1 L612.6,260.2 L630.8,278.4 L657.9,264.5 L672.7,290.2 L647.1,306.8Z M623.0,348.0 A80,80 0 1 0 463.0,348.0 A80,80 0 1 0 623.0,348.0 Z" fill="#fff" fill-rule="evenodd"/>
<path d="M781.3,473.7 L801.5,474.2 L801.5,491.8 L781.3,492.3 L777.5,506.6 L794.7,517.2 L786.0,532.4 L768.2,522.8 L757.8,533.2 L767.4,551.0 L752.2,559.7 L741.6,542.5 L727.3,546.3 L726.8,566.5 L709.2,566.5 L708.7,546.3 L694.4,542.5 L683.8,559.7 L668.6,551.0 L678.2,533.2 L667.8,522.8 L650.0,532.4 L641.3,517.2 L658.5,506.6 L654.7,492.3 L634.5,491.8 L634.5,474.2 L654.7,473.7 L658.5,459.4 L641.3,448.8 L650.0,433.6 L667.8,443.2 L678.2,432.8 L668.6,415.0 L683.8,406.3 L694.4,423.5 L708.7,419.7 L709.2,399.5 L726.8,399.5 L727.3,419.7 L741.6,423.5 L752.2,406.3 L767.4,415.0 L757.8,432.8 L768.2,443.2 L786.0,433.6 L794.7,448.8 L777.5,459.4Z M760.0,483.0 A42,42 0 1 0 676.0,483.0 A42,42 0 1 0 760.0,483.0 Z" fill="#fff" fill-rule="evenodd"/>
</g>
<circle cx="1336.5" cy="1758" r="50.6" fill="#EDB232"/>
<g transform="translate(1060,1670) scale(0.17274)"><rect x="1451" y="373" width="238" height="296" rx="42" fill="none" stroke="#fff" stroke-width="24"/><rect x="1500" y="361" width="140" height="46" rx="14" fill="#fff"/><rect x="1524" y="383" width="92" height="15" rx="7.5" fill="#EDB232"/><g stroke="#fff" stroke-width="10" stroke-linecap="round"><path d="M1505,468 H1640 M1505,525 H1610 M1505,585 H1555"/></g><path d="M1738,418 L1772,450 L1608,622 L1550,644 L1572,588 Z" fill="#fff" stroke="#EDB232" stroke-width="14" stroke-linejoin="round"/><path d="M1590,585 L1612,607" stroke="#EDB232" stroke-width="8"/></g>
<circle cx="1494.9" cy="1756.3" r="50.6" fill="#EDB232"/>
<g transform="translate(1420,1680) scale(0.15202)"><path d="M493,693 L345,540 C300,480 300,400 350,360 C400,325 460,340 493,385 C526,340 590,325 640,360 C690,400 690,480 640,540 Z" fill="#fff"/><path d="M300,532 H392 L425,440 L463,590 L500,480 L520,532 H700" fill="none" stroke="#EDB232" stroke-width="22" stroke-linejoin="round"/></g>
<circle cx="1658.7" cy="1758.4" r="50.6" fill="#EDB232"/>
<g transform="translate(1420,1680) scale(0.15202)"><circle cx="1570" cy="498" r="204" fill="none" stroke="#fff" stroke-width="28"/><ellipse cx="1518" cy="428" rx="30" ry="45" fill="#fff"/><ellipse cx="1623" cy="428" rx="30" ry="45" fill="#fff"/><path d="M1437,520 H1703 C1690,600 1630,634 1570,634 C1510,634 1450,600 1437,520 Z" fill="#fff"/></g>
<text x="1314.48" y="1833.3" font-size="20" font-weight="bold" fill="#EDB232" textLength="43.39" lengthAdjust="spacingAndGlyphs">EMR</text>
<text x="1446.60" y="1835.4" font-size="21" font-weight="bold" fill="#EDB232" textLength="98.90" lengthAdjust="spacingAndGlyphs">Wearables</text>
<text x="1624.23" y="1838.7" font-size="21" font-weight="bold" fill="#EDB232" textLength="67.97" lengthAdjust="spacingAndGlyphs">Patient</text>
<text x="1612.57" y="1858.4" font-size="21" font-weight="bold" fill="#EDB232" textLength="92.99" lengthAdjust="spacingAndGlyphs">Reporting</text>
<text x="1235.09" y="1968.7" font-size="48.5" fill="#EDB232" textLength="382.92" lengthAdjust="spacingAndGlyphs" stroke="#EDB232" stroke-width="2">EVIDENCE BASED</text>
<g fill="none" stroke="#EDB232" stroke-width="4" stroke-linecap="round" stroke-dasharray="4.6 7.4"><path d="M1042.4,1889 V1947.5 Q1042.4,1953.2 1048.1,1953.2 H1209.5"/><path d="M1771.5,1889 V1947.5 Q1771.5,1953.2 1765.8,1953.2 H1645.3"/></g>
<circle cx="183.5" cy="2303.8" r="50.6" fill="#EDB232"/>
<circle cx="348.9" cy="2303.8" r="50.6" fill="#EDB232"/>
<circle cx="513.6" cy="2303.8" r="50.6" fill="#EDB232"/>
<circle cx="678.5" cy="2303.8" r="50.6" fill="#EDB232"/>
<circle cx="843.2" cy="2305.2" r="49.6" fill="#EDB232"/>
<g transform="translate(120,2240) scale(0.18633)"><rect x="345" y="240" width="147" height="252" rx="16" fill="#fff"/><rect x="368" y="262" width="102" height="173" fill="#EDB232"/><circle cx="418" cy="465" r="12" fill="#EDB232"/><path d="M312,203 C375,203 424,238 424,283 C424,310 408,330 392,342 L418,398 L345,360 C335,362 324,363 312,363 C250,363 200,328 200,283 C200,238 250,203 312,203 Z" fill="#fff" stroke="#EDB232" stroke-width="7"/><circle cx="312" cy="252" r="21" fill="#EDB232"/><path d="M300,268 H324 V292 C350,296 366,304 366,314 C366,326 340,330 312,330 C284,330 258,326 258,314 C258,304 274,296 300,292 Z" fill="#EDB232"/><rect x="1109" y="243" width="242" height="146" fill="none" stroke="#fff" stroke-width="22"/><path d="M1098,398 H1362 L1385,452 Q1388,466 1372,466 H1088 Q1072,466 1075,452 Z" fill="#fff"/><rect x="1200" y="443" width="60" height="8" fill="#EDB232"/><path d="M1193,284 L1250,318 L1228,322 L1248,345 L1240,351 L1221,328 L1210,345 Z" fill="#fff"/><path d="M2005,250 C1975,262 1970,290 1980,320 C2005,390 2080,460 2160,485 C2195,492 2215,475 2222,452 L2170,398 C2150,395 2140,412 2122,412 C2090,395 2062,365 2048,338 C2050,318 2062,310 2055,292 Z" fill="#fff" stroke="#fff" stroke-width="6" stroke-linejoin="round"/><path d="M2112,282 A68,68 0 0 1 2180,350" fill="none" stroke="#fff" stroke-width="26"/><path d="M2112,222 A128,128 0 0 1 2240,350" fill="none" stroke="#fff" stroke-width="26"/></g>
<g transform="translate(600,2240) scale(0.13200)"><path d="M655,345 C735,345 800,400 800,470 C800,505 785,535 762,556 L772,632 L700,590 C686,593 671,595 655,595 C575,595 510,540 510,470 C510,400 575,345 655,345 Z" fill="#fff"/><path d="M497,405 C575,405 638,452 638,510 C638,568 575,612 497,612 C476,612 456,609 438,603 L378,634 L392,575 C372,558 360,535 360,510 C360,452 420,405 497,405 Z" fill="#fff" stroke="#EDB232" stroke-width="12"/><path d="M1712,548 A72,72 0 0 1 1784,620 H1712 Z" fill="#fff"/><path d="M1712,455 A165,165 0 0 1 1877,620" fill="none" stroke="#fff" stroke-width="68"/><path d="M1712,324 A296,296 0 0 1 2008,620" fill="none" stroke="#fff" stroke-width="66"/></g>
<text x="137.29" y="2385.6" font-size="20.5" font-weight="bold" fill="#EDB232" textLength="98.34" lengthAdjust="spacingAndGlyphs" stroke="#EDB232" stroke-width="0.5">SMS/TEXT</text>
<text x="291.03" y="2385.6" font-size="20.5" font-weight="bold" fill="#EDB232" textLength="115.87" lengthAdjust="spacingAndGlyphs" stroke="#EDB232" stroke-width="0.5">EMAIL/WEB</text>
<text x="457.73" y="2385.6" font-size="20.5" font-weight="bold" fill="#EDB232" textLength="111.45" lengthAdjust="spacingAndGlyphs" stroke="#EDB232" stroke-width="0.5">PHONE/IVR</text>
<text x="644.12" y="2385.6" font-size="20.5" font-weight="bold" fill="#EDB232" textLength="73.58" lengthAdjust="spacingAndGlyphs" stroke="#EDB232" stroke-width="0.5">MOBILE</text>
<text x="827.71" y="2385.6" font-size="20.5" font-weight="bold" fill="#EDB232" textLength="31.41" lengthAdjust="spacingAndGlyphs" stroke="#EDB232" stroke-width="0.5">API</text>
<rect x="96.8" y="2446.1" width="833.2" height="72.8" fill="#2788C8"/>
<text x="144.73" y="2496.8" font-size="33.5" font-weight="bold" fill="#fff" textLength="736.79" lengthAdjust="spacingAndGlyphs">69% OF PATIENT’S INTERACT ON A DAILY BASIS</text>
<path d="M1167.2,2258.4 A146.7,146.7 0 0 1 1387.2,2385.4 L1349.9,2385.4 A109.4,109.4 0 0 0 1185.8,2290.7 Z" fill="#333333"/>
<path d="M1093.8,2385.4 A146.7,146.7 0 0 1 1167.8,2258.0 L1186.3,2290.4 A109.4,109.4 0 0 0 1131.1,2385.4 Z" fill="#EDB232"/>
<text x="1170.91" y="2377.5" font-size="55" font-weight="bold" fill="#EDB232" textLength="142.90" lengthAdjust="spacingAndGlyphs" stroke="#EDB232" stroke-width="1.2">31.4%</text>
<text x="1064.04" y="2453.8" font-size="61" font-weight="bold" fill="#EDB232" textLength="347.01" lengthAdjust="spacingAndGlyphs" stroke="#EDB232" stroke-width="1.2">INCREASE IN</text>
<text x="1066.56" y="2515.1" font-size="61" font-weight="bold" fill="#EDB232" textLength="341.16" lengthAdjust="spacingAndGlyphs" stroke="#EDB232" stroke-width="1.2">ADHERENCE</text>
<rect x="2089" y="782.1" width="1259.5" height="735.1999999999999" fill="#fff"/>
<line x1="2302.0" x2="2302.0" y1="782.1" y2="1517.3" stroke="#F7F7F7" stroke-width="1.4"/>
<line x1="2614.5" x2="2614.5" y1="782.1" y2="1517.3" stroke="#F7F7F7" stroke-width="1.4"/>
<line x1="2927.0" x2="2927.0" y1="782.1" y2="1517.3" stroke="#F7F7F7" stroke-width="1.4"/>
<line x1="3239.5" x2="3239.5" y1="782.1" y2="1517.3" stroke="#F7F7F7" stroke-width="1.4"/>
<line y1="1355.8" y2="1355.8" x1="2089" x2="3348.5" stroke="#F7F7F7" stroke-width="1.4"/>
<line y1="1098.1" y2="1098.1" x1="2089" x2="3348.5" stroke="#F7F7F7" stroke-width="1.4"/>
<line y1="840.5" y2="840.5" x1="2089" x2="3348.5" stroke="#F7F7F7" stroke-width="1.4"/>
<line x1="2145.7" x2="2145.7" y1="782.1" y2="1517.3" stroke="#EBEBEB" stroke-width="1.7"/>
<line x1="2458.2" x2="2458.2" y1="782.1" y2="1517.3" stroke="#EBEBEB" stroke-width="1.7"/>
<line x1="2770.7" x2="2770.7" y1="782.1" y2="1517.3" stroke="#EBEBEB" stroke-width="1.7"/>
<line x1="3083.2" x2="3083.2" y1="782.1" y2="1517.3" stroke="#EBEBEB" stroke-width="1.7"/>
<line y1="1484.6" y2="1484.6" x1="2089" x2="3348.5" stroke="#EBEBEB" stroke-width="1.7"/>
<line y1="1226.9" y2="1226.9" x1="2089" x2="3348.5" stroke="#EBEBEB" stroke-width="1.7"/>
<line y1="969.3" y2="969.3" x1="2089" x2="3348.5" stroke="#EBEBEB" stroke-width="1.7"/>
<rect x="2249.9" y="1330.0" width="52.4" height="154.6" fill="#2389CA"/>
<rect x="2302.0" y="1381.5" width="52.4" height="103.1" fill="#EFB521"/>
<rect x="2354.0" y="1226.9" width="52.4" height="257.7" fill="#2389CA"/>
<rect x="2406.1" y="1433.1" width="52.4" height="51.5" fill="#EFB521"/>
<rect x="2458.2" y="1226.9" width="52.4" height="257.7" fill="#2389CA"/>
<rect x="2510.3" y="1226.9" width="52.4" height="257.7" fill="#EFB521"/>
<rect x="2562.4" y="1381.5" width="52.4" height="103.1" fill="#2389CA"/>
<rect x="2614.5" y="1123.9" width="52.4" height="360.7" fill="#EFB521"/>
<rect x="2666.5" y="1226.9" width="52.4" height="257.7" fill="#2389CA"/>
<rect x="2718.6" y="1020.8" width="52.4" height="463.8" fill="#EFB521"/>
<rect x="2770.7" y="1175.4" width="52.4" height="309.2" fill="#2389CA"/>
<rect x="2822.8" y="1175.4" width="52.4" height="309.2" fill="#EFB521"/>
<rect x="2874.9" y="1072.4" width="52.4" height="412.2" fill="#2389CA"/>
<rect x="2927.0" y="1226.9" width="52.4" height="257.7" fill="#EFB521"/>
<rect x="2979.1" y="1123.9" width="52.4" height="360.7" fill="#2389CA"/>
<rect x="3031.1" y="1330.0" width="52.4" height="154.6" fill="#EFB521"/>
<rect x="3083.2" y="969.3" width="52.4" height="515.3" fill="#2389CA"/>
<rect x="3135.3" y="1226.9" width="52.4" height="257.7" fill="#EFB521"/>
<rect x="3187.4" y="1226.9" width="52.4" height="257.7" fill="#2389CA"/>
<rect x="3239.5" y="814.7" width="52.4" height="669.9" fill="#EFB521"/>
<rect x="2089" y="782.1" width="1259.5" height="735.1999999999999" fill="none" stroke="#7F7F7F" stroke-width="1.8"/>
<line x1="2074.5" x2="2089" y1="1484.6" y2="1484.6" stroke="#000" stroke-width="3.1"/>
<text x="2065.5" y="1495.2" font-size="30.2" text-anchor="end" fill="#000">0</text>
<line x1="2074.5" x2="2089" y1="1226.9" y2="1226.9" stroke="#000" stroke-width="3.1"/>
<text x="2065.5" y="1237.5" font-size="30.2" text-anchor="end" fill="#000">5</text>
<line x1="2074.5" x2="2089" y1="969.3" y2="969.3" stroke="#000" stroke-width="3.1"/>
<text x="2065.5" y="979.9" font-size="30.2" text-anchor="end" fill="#000">10</text>
<line x1="2145.7" x2="2145.7" y1="1517.3" y2="1531.8" stroke="#000" stroke-width="3.1"/>
<text x="2145.7" y="1563.6" font-size="30.2" text-anchor="middle" fill="#000">0</text>
<line x1="2458.2" x2="2458.2" y1="1517.3" y2="1531.8" stroke="#000" stroke-width="3.1"/>
<text x="2458.2" y="1563.6" font-size="30.2" text-anchor="middle" fill="#000">30</text>
<line x1="2770.7" x2="2770.7" y1="1517.3" y2="1531.8" stroke="#000" stroke-width="3.1"/>
<text x="2770.7" y="1563.6" font-size="30.2" text-anchor="middle" fill="#000">60</text>
<line x1="3083.2" x2="3083.2" y1="1517.3" y2="1531.8" stroke="#000" stroke-width="3.1"/>
<text x="3083.2" y="1563.6" font-size="30.2" text-anchor="middle" fill="#000">90</text>
<text x="2718.6" y="1600.0" font-size="37" text-anchor="middle" fill="#000">PDC</text>
<text transform="translate(2020.5,1149) rotate(-90)" font-size="37" text-anchor="middle">Frequency</text>
<text x="2462.0" y="1695.0" font-size="30.2" font-weight="bold" fill="#000">Period</text>
<rect x="2569.5" y="1656.3" width="55.5" height="55.5" fill="#2389CA" stroke="#D8D8D8" stroke-width="1.4"/>
<text x="2631.5" y="1695.0" font-size="30.2" fill="#000">historical</text>
<rect x="2757" y="1656.3" width="55.5" height="55.5" fill="#EFB521" stroke="#D8D8D8" stroke-width="1.4"/>
<text x="2818.5" y="1695.0" font-size="30.2" fill="#000">intervention</text>
<rect x="3660" y="780.6" width="1188.3999999999996" height="840.9" fill="#fff"/>
<line x1="3848.2" x2="3848.2" y1="780.6" y2="1621.5" stroke="#F7F7F7" stroke-width="1.4"/>
<line x1="4118.6" x2="4118.6" y1="780.6" y2="1621.5" stroke="#F7F7F7" stroke-width="1.4"/>
<line x1="4388.9" x2="4388.9" y1="780.6" y2="1621.5" stroke="#F7F7F7" stroke-width="1.4"/>
<line x1="4659.3" x2="4659.3" y1="780.6" y2="1621.5" stroke="#F7F7F7" stroke-width="1.4"/>
<line y1="1403.3" y2="1403.3" x1="3660" x2="4848.4" stroke="#F7F7F7" stroke-width="1.4"/>
<line y1="1169.1" y2="1169.1" x1="3660" x2="4848.4" stroke="#F7F7F7" stroke-width="1.4"/>
<line y1="935.0" y2="935.0" x1="3660" x2="4848.4" stroke="#F7F7F7" stroke-width="1.4"/>
<line x1="3713.0" x2="3713.0" y1="780.6" y2="1621.5" stroke="#EBEBEB" stroke-width="1.7"/>
<line x1="3983.4" x2="3983.4" y1="780.6" y2="1621.5" stroke="#EBEBEB" stroke-width="1.7"/>
<line x1="4253.8" x2="4253.8" y1="780.6" y2="1621.5" stroke="#EBEBEB" stroke-width="1.7"/>
<line x1="4524.1" x2="4524.1" y1="780.6" y2="1621.5" stroke="#EBEBEB" stroke-width="1.7"/>
<line x1="4794.5" x2="4794.5" y1="780.6" y2="1621.5" stroke="#EBEBEB" stroke-width="1.7"/>
<line y1="1520.4" y2="1520.4" x1="3660" x2="4848.4" stroke="#EBEBEB" stroke-width="1.7"/>
<line y1="1286.2" y2="1286.2" x1="3660" x2="4848.4" stroke="#EBEBEB" stroke-width="1.7"/>
<line y1="1052.1" y2="1052.1" x1="3660" x2="4848.4" stroke="#EBEBEB" stroke-width="1.7"/>
<line y1="817.9" y2="817.9" x1="3660" x2="4848.4" stroke="#EBEBEB" stroke-width="1.7"/>
<circle cx="3713.0" cy="817.9" r="6.3" fill="#2389CA"/>
<circle cx="3737.1" cy="817.9" r="6.3" fill="#2389CA"/>
<circle cx="3766.1" cy="817.9" r="6.3" fill="#2389CA"/>
<circle cx="4111.1" cy="817.9" r="6.3" fill="#2389CA"/>
<circle cx="4318.5" cy="817.9" r="6.3" fill="#2389CA"/>
<circle cx="4794.5" cy="817.9" r="6.3" fill="#2389CA"/>
<circle cx="4755.5" cy="837.0" r="6.3" fill="#2389CA"/>
<circle cx="4711.6" cy="853.6" r="6.3" fill="#2389CA"/>
<circle cx="4794.5" cy="861.9" r="6.3" fill="#2389CA"/>
<circle cx="3713.0" cy="881.8" r="6.3" fill="#2389CA"/>
<circle cx="3713.0" cy="912.5" r="6.3" fill="#2389CA"/>
<circle cx="4675.1" cy="963.1" r="6.3" fill="#2389CA"/>
<circle cx="4485.2" cy="979.7" r="6.3" fill="#2389CA"/>
<circle cx="4759.7" cy="1042.7" r="6.3" fill="#2389CA"/>
<circle cx="3713.0" cy="1051.8" r="6.3" fill="#2389CA"/>
<circle cx="3763.6" cy="1051.8" r="6.3" fill="#2389CA"/>
<circle cx="4345.8" cy="1055.1" r="6.3" fill="#2389CA"/>
<circle cx="4794.5" cy="1077.5" r="6.3" fill="#2389CA"/>
<circle cx="4794.5" cy="1100.7" r="6.3" fill="#2389CA"/>
<circle cx="3713.0" cy="1104.9" r="6.3" fill="#2389CA"/>
<circle cx="4694.2" cy="1110.7" r="6.3" fill="#2389CA"/>
<circle cx="4794.5" cy="1143.0" r="6.3" fill="#2389CA"/>
<circle cx="4794.5" cy="1165.4" r="6.3" fill="#2389CA"/>
<circle cx="4298.6" cy="1169.6" r="6.3" fill="#2389CA"/>
<circle cx="4297.7" cy="1198.6" r="6.3" fill="#2389CA"/>
<circle cx="4794.5" cy="1211.0" r="6.3" fill="#2389CA"/>
<circle cx="4627.8" cy="1218.5" r="6.3" fill="#2389CA"/>
<circle cx="4794.5" cy="1225.1" r="6.3" fill="#2389CA"/>
<circle cx="4794.5" cy="1230.9" r="6.3" fill="#2389CA"/>
<circle cx="3713.0" cy="1230.1" r="6.3" fill="#2389CA"/>
<circle cx="4773.8" cy="1240.1" r="6.3" fill="#2389CA"/>
<circle cx="3713.0" cy="1272.4" r="6.3" fill="#2389CA"/>
<circle cx="3713.0" cy="1289.0" r="6.3" fill="#2389CA"/>
<circle cx="3713.0" cy="1313.9" r="6.3" fill="#2389CA"/>
<circle cx="4343.4" cy="1322.2" r="6.3" fill="#2389CA"/>
<circle cx="4773.0" cy="1325.5" r="6.3" fill="#2389CA"/>
<circle cx="4755.5" cy="1333.8" r="6.3" fill="#2389CA"/>
<circle cx="4334.2" cy="1364.5" r="6.3" fill="#2389CA"/>
<circle cx="3760.3" cy="1376.9" r="6.3" fill="#2389CA"/>
<circle cx="3713.0" cy="1398.5" r="6.3" fill="#2389CA"/>
<circle cx="4435.4" cy="1416.7" r="6.3" fill="#2389CA"/>
<circle cx="3713.0" cy="1444.1" r="6.3" fill="#2389CA"/>
<circle cx="3713.0" cy="1455.7" r="6.3" fill="#2389CA"/>
<circle cx="3713.0" cy="1466.5" r="6.3" fill="#2389CA"/>
<circle cx="4589.7" cy="1553.6" r="6.3" fill="#2389CA"/>
<circle cx="3974.3" cy="1581.8" r="6.3" fill="#2389CA"/>
<circle cx="4794.5" cy="1584.2" r="6.3" fill="#2389CA"/>
<rect x="3660" y="780.6" width="1188.3999999999996" height="840.9" fill="none" stroke="#7F7F7F" stroke-width="1.8"/>
<line x1="3647" x2="3660" y1="1520.4" y2="1520.4" stroke="#000" stroke-width="2.8"/>
<text x="3638.0" y="1530.7" font-size="29" text-anchor="end" fill="#000">25</text>
<line x1="3647" x2="3660" y1="1286.2" y2="1286.2" stroke="#000" stroke-width="2.8"/>
<text x="3638.0" y="1296.5" font-size="29" text-anchor="end" fill="#000">50</text>
<line x1="3647" x2="3660" y1="1052.1" y2="1052.1" stroke="#000" stroke-width="2.8"/>
<text x="3638.0" y="1062.4" font-size="29" text-anchor="end" fill="#000">75</text>
<line x1="3647" x2="3660" y1="817.9" y2="817.9" stroke="#000" stroke-width="2.8"/>
<text x="3638.0" y="828.2" font-size="29" text-anchor="end" fill="#000">100</text>
<line x1="3713.0" x2="3713.0" y1="1621.5" y2="1634.5" stroke="#000" stroke-width="2.8"/>
<text x="3713.0" y="1666.0" font-size="29" text-anchor="middle" fill="#000">0</text>
<line x1="3983.4" x2="3983.4" y1="1621.5" y2="1634.5" stroke="#000" stroke-width="2.8"/>
<text x="3983.4" y="1666.0" font-size="29" text-anchor="middle" fill="#000">25</text>
<line x1="4253.8" x2="4253.8" y1="1621.5" y2="1634.5" stroke="#000" stroke-width="2.8"/>
<text x="4253.8" y="1666.0" font-size="29" text-anchor="middle" fill="#000">50</text>
<line x1="4524.1" x2="4524.1" y1="1621.5" y2="1634.5" stroke="#000" stroke-width="2.8"/>
<text x="4524.1" y="1666.0" font-size="29" text-anchor="middle" fill="#000">75</text>
<line x1="4794.5" x2="4794.5" y1="1621.5" y2="1634.5" stroke="#000" stroke-width="2.8"/>
<text x="4794.5" y="1666.0" font-size="29" text-anchor="middle" fill="#000">100</text>
<text x="4253.8" y="1700.5" font-size="36" text-anchor="middle" fill="#000">Time Spent Engaged</text>
<text transform="translate(3578,1200) rotate(-90)" font-size="36" text-anchor="middle">PDC</text>
<rect x="2180.5" y="1914" width="1087.5" height="761" fill="#fff"/>
<line x1="2457.7" x2="2457.7" y1="1914" y2="2675" stroke="#F7F7F7" stroke-width="1.4"/>
<line x1="2762.6" x2="2762.6" y1="1914" y2="2675" stroke="#F7F7F7" stroke-width="1.4"/>
<line x1="3067.5" x2="3067.5" y1="1914" y2="2675" stroke="#F7F7F7" stroke-width="1.4"/>
<line y1="2565.4" y2="2565.4" x1="2180.5" x2="3268" stroke="#F7F7F7" stroke-width="1.4"/>
<line y1="2414.9" y2="2414.9" x1="2180.5" x2="3268" stroke="#F7F7F7" stroke-width="1.4"/>
<line y1="2264.3" y2="2264.3" x1="2180.5" x2="3268" stroke="#F7F7F7" stroke-width="1.4"/>
<line y1="2113.8" y2="2113.8" x1="2180.5" x2="3268" stroke="#F7F7F7" stroke-width="1.4"/>
<line y1="1963.2" y2="1963.2" x1="2180.5" x2="3268" stroke="#F7F7F7" stroke-width="1.4"/>
<line x1="2305.2" x2="2305.2" y1="1914" y2="2675" stroke="#EBEBEB" stroke-width="1.7"/>
<line x1="2610.1" x2="2610.1" y1="1914" y2="2675" stroke="#EBEBEB" stroke-width="1.7"/>
<line x1="2915.0" x2="2915.0" y1="1914" y2="2675" stroke="#EBEBEB" stroke-width="1.7"/>
<line x1="3220.0" x2="3220.0" y1="1914" y2="2675" stroke="#EBEBEB" stroke-width="1.7"/>
<line y1="2640.7" y2="2640.7" x1="2180.5" x2="3268" stroke="#EBEBEB" stroke-width="1.7"/>
<line y1="2490.1" y2="2490.1" x1="2180.5" x2="3268" stroke="#EBEBEB" stroke-width="1.7"/>
<line y1="2339.6" y2="2339.6" x1="2180.5" x2="3268" stroke="#EBEBEB" stroke-width="1.7"/>
<line y1="2189.0" y2="2189.0" x1="2180.5" x2="3268" stroke="#EBEBEB" stroke-width="1.7"/>
<line y1="2038.5" y2="2038.5" x1="2180.5" x2="3268" stroke="#EBEBEB" stroke-width="1.7"/>
<line x1="2229" x2="3221" y1="2640.7" y2="2640.7" stroke="#fff" stroke-width="3"/>
<rect x="2305.2" y="2580.5" width="76.23" height="60.2" fill="#EFB521" stroke="#fff" stroke-width="3"/>
<rect x="2381.4" y="2550.4" width="76.23" height="90.3" fill="#EFB521" stroke="#fff" stroke-width="3"/>
<rect x="2457.7" y="1948.2" width="76.23" height="692.5" fill="#EFB521" stroke="#fff" stroke-width="3"/>
<rect x="2533.9" y="2339.6" width="76.23" height="301.1" fill="#EFB521" stroke="#fff" stroke-width="3"/>
<rect x="2610.1" y="2460.0" width="76.23" height="180.7" fill="#EFB521" stroke="#fff" stroke-width="3"/>
<rect x="2762.6" y="2610.6" width="76.23" height="30.1" fill="#EFB521" stroke="#fff" stroke-width="3"/>
<rect x="2838.8" y="2610.6" width="76.23" height="30.1" fill="#EFB521" stroke="#fff" stroke-width="3"/>
<rect x="2915.0" y="2580.5" width="76.23" height="60.2" fill="#EFB521" stroke="#fff" stroke-width="3"/>
<rect x="2991.3" y="2520.3" width="76.23" height="120.4" fill="#EFB521" stroke="#fff" stroke-width="3"/>
<rect x="3067.5" y="2520.3" width="76.23" height="120.4" fill="#EFB521" stroke="#fff" stroke-width="3"/>
<rect x="2180.5" y="1914" width="1087.5" height="761" fill="none" stroke="#7F7F7F" stroke-width="1.8"/>
<line x1="2168.3" x2="2180.5" y1="2640.7" y2="2640.7" stroke="#000" stroke-width="2.6"/>
<text x="2161.0" y="2650.1" font-size="26.8" text-anchor="end" fill="#000">0</text>
<line x1="2168.3" x2="2180.5" y1="2490.1" y2="2490.1" stroke="#000" stroke-width="2.6"/>
<text x="2161.0" y="2499.5" font-size="26.8" text-anchor="end" fill="#000">5</text>
<line x1="2168.3" x2="2180.5" y1="2339.6" y2="2339.6" stroke="#000" stroke-width="2.6"/>
<text x="2161.0" y="2349.0" font-size="26.8" text-anchor="end" fill="#000">10</text>
<line x1="2168.3" x2="2180.5" y1="2189.0" y2="2189.0" stroke="#000" stroke-width="2.6"/>
<text x="2161.0" y="2198.4" font-size="26.8" text-anchor="end" fill="#000">15</text>
<line x1="2168.3" x2="2180.5" y1="2038.5" y2="2038.5" stroke="#000" stroke-width="2.6"/>
<text x="2161.0" y="2047.9" font-size="26.8" text-anchor="end" fill="#000">20</text>
<line x1="2305.2" x2="2305.2" y1="2675" y2="2687.2" stroke="#000" stroke-width="2.6"/>
<text x="2305.2" y="2713.2" font-size="26.8" text-anchor="middle" fill="#000">0</text>
<line x1="2610.1" x2="2610.1" y1="2675" y2="2687.2" stroke="#000" stroke-width="2.6"/>
<text x="2610.1" y="2713.2" font-size="26.8" text-anchor="middle" fill="#000">4</text>
<line x1="2915.0" x2="2915.0" y1="2675" y2="2687.2" stroke="#000" stroke-width="2.6"/>
<text x="2915.0" y="2713.2" font-size="26.8" text-anchor="middle" fill="#000">8</text>
<line x1="3220.0" x2="3220.0" y1="2675" y2="2687.2" stroke="#000" stroke-width="2.6"/>
<text x="3220.0" y="2713.2" font-size="26.8" text-anchor="middle" fill="#000">12</text>
<text x="2725.2" y="2746.0" font-size="32.6" text-anchor="middle" fill="#000">Number of Messages/Week</text>
<text transform="translate(2120.5,2293.7) rotate(-90)" font-size="32.3" text-anchor="middle">Frequency</text>
</svg>
</body></html>
